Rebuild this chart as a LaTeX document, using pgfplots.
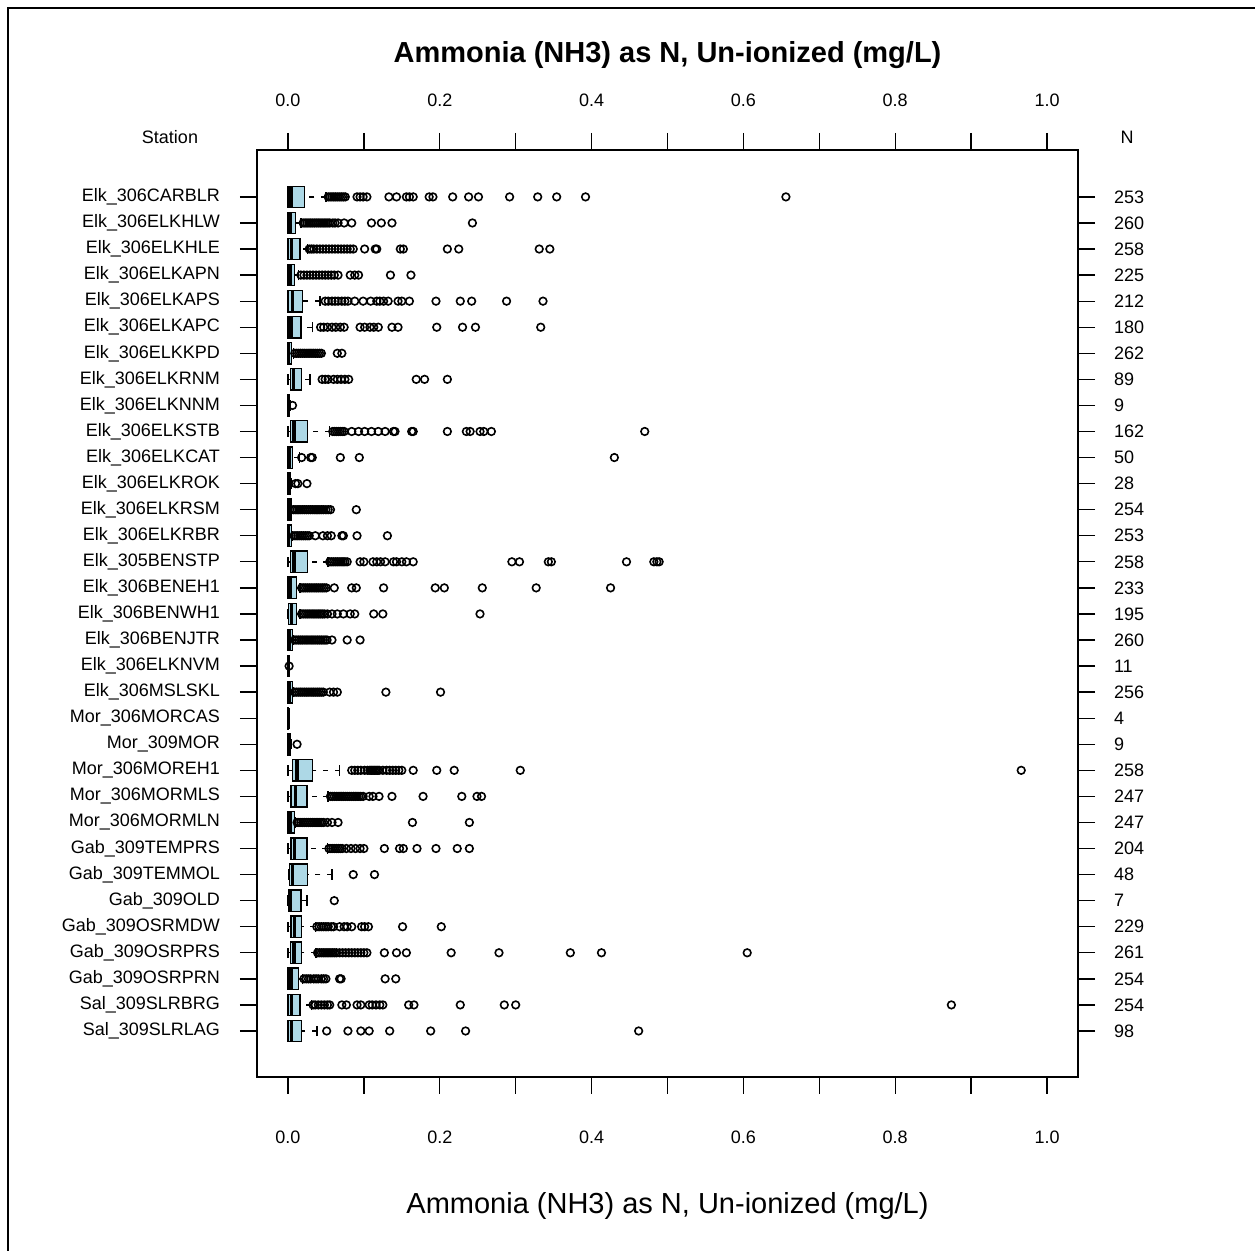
\documentclass[border=0pt]{standalone}
\usepackage{pgfplots}
\pgfplotsset{compat=1.18}
\usepgfplotslibrary{statistics}
\usepackage{fontspec}
\setmainfont{Liberation Sans}
\definecolor{boxblue}{HTML}{ADD8E6}
\begin{document}
\begin{tikzpicture}
\useasboundingbox (-128.5pt,-87pt) rectangle (499pt,538.5pt);
\pgfplotsset{
  common/.style={
    scale only axis, width=410.5pt, height=463.5pt,
    xmin=-0.0408, xmax=1.0408, ymin=-0.765, ymax=34.8,
    axis line style={line width=0.65pt},
    every tick/.style={black, line width=0.65pt},
    tick align=outside,
    major tick length=8.5pt, minor tick length=8.5pt,
    ticklabel style={font=\fontsize{9}{10}\selectfont},
    xtick={0,0.2,0.4,0.6,0.8,1.0},
    minor xtick={0.1,0.3,0.5,0.7,0.9},
    xticklabels={0.0,0.2,0.4,0.6,0.8,1.0},
    ytick={1,...,33},
  },
  outl/.style={only marks, mark=o, mark size=1.9pt, black, mark options={solid, line width=0.8pt, black}},
}
\begin{axis}[common,
  xtick pos=bottom, xticklabel pos=bottom, ytick pos=left, yticklabel pos=left,
  xticklabel shift=14.75pt, yticklabel shift=6.5pt,
  yticklabels={Sal\_309SLRLAG,Sal\_309SLRBRG,Gab\_309OSRPRN,Gab\_309OSRPRS,Gab\_309OSRMDW,Gab\_309OLD,Gab\_309TEMMOL,Gab\_309TEMPRS,Mor\_306MORMLN,Mor\_306MORMLS,Mor\_306MOREH1,Mor\_309MOR,Mor\_306MORCAS,Elk\_306MSLSKL,Elk\_306ELKNVM,Elk\_306BENJTR,Elk\_306BENWH1,Elk\_306BENEH1,Elk\_305BENSTP,Elk\_306ELKRBR,Elk\_306ELKRSM,Elk\_306ELKROK,Elk\_306ELKCAT,Elk\_306ELKSTB,Elk\_306ELKNNM,Elk\_306ELKRNM,Elk\_306ELKKPD,Elk\_306ELKAPC,Elk\_306ELKAPS,Elk\_306ELKAPN,Elk\_306ELKHLE,Elk\_306ELKHLW,Elk\_306CARBLR},
  boxplot/draw direction=x,
  boxplot/box extend=0.82,
  boxplot/whisker extend=0.4,
  boxplot/every box/.style={draw=black, fill=boxblue, line width=0.7pt},
  boxplot/every median/.style={draw=black, line width=1.7pt},
  boxplot/draw/lower whisker/.code={%
    \draw[black, line width=0.7pt, dash pattern=on 2.5pt off 3.3pt]
      (boxplot cs:\pgfplotsboxplotvalue{lower whisker}) --
      (boxplot cs:\pgfplotsboxplotvalue{lower quartile});
    \draw[black, line width=0.7pt]
      (boxplot whisker cs:\pgfplotsboxplotvalue{lower whisker},0) --
      (boxplot whisker cs:\pgfplotsboxplotvalue{lower whisker},1);
  },
  boxplot/draw/upper whisker/.code={%
    \draw[black, line width=0.7pt, dash pattern=on 2.5pt off 3.3pt]
      (boxplot cs:\pgfplotsboxplotvalue{upper whisker}) --
      (boxplot cs:\pgfplotsboxplotvalue{upper quartile});
    \draw[black, line width=0.7pt]
      (boxplot whisker cs:\pgfplotsboxplotvalue{upper whisker},0) --
      (boxplot whisker cs:\pgfplotsboxplotvalue{upper whisker},1);
  },
]
% Row 1 Elk_306CARBLR
\addplot[black, boxplot prepared={draw position=33, lower whisker=0, lower quartile=0, median=0.004, upper quartile=0.022, upper whisker=0.050}] coordinates {};
\addplot[outl] coordinates {(0.053,33)(0.0555,33)(0.058,33)(0.0605,33)(0.063,33)(0.0655,33)(0.068,33)(0.0705,33)(0.073,33)(0.0755,33)(0.091,33)(0.095,33)(0.099,33)(0.104,33)(0.133,33)(0.143,33)(0.156,33)(0.160,33)(0.165,33)(0.186,33)(0.191,33)(0.217,33)(0.238,33)(0.251,33)(0.292,33)(0.329,33)(0.354,33)(0.392,33)(0.656,33)};
% Row 2 Elk_306ELKHLW
\addplot[black, boxplot prepared={draw position=32, lower whisker=0, lower quartile=0, median=0.003, upper quartile=0.010, upper whisker=0.017}] coordinates {};
\addplot[outl] coordinates {(0.020,32)(0.0225,32)(0.025,32)(0.0275,32)(0.030,32)(0.0325,32)(0.035,32)(0.0375,32)(0.040,32)(0.0425,32)(0.045,32)(0.0475,32)(0.050,32)(0.0525,32)(0.055,32)(0.059,32)(0.062,32)(0.066,32)(0.074,32)(0.084,32)(0.110,32)(0.123,32)(0.137,32)(0.243,32)};
% Row 3 Elk_306ELKHLE
\addplot[black, boxplot prepared={draw position=31, lower whisker=0, lower quartile=0, median=0.005, upper quartile=0.016, upper whisker=0.026}] coordinates {};
\addplot[outl] coordinates {(0.028,31)(0.031,31)(0.034,31)(0.038,31)(0.042,31)(0.046,31)(0.050,31)(0.054,31)(0.058,31)(0.062,31)(0.066,31)(0.070,31)(0.074,31)(0.078,31)(0.082,31)(0.086,31)(0.101,31)(0.115,31)(0.117,31)(0.148,31)(0.152,31)(0.210,31)(0.225,31)(0.331,31)(0.345,31)};
% Row 4 Elk_306ELKAPN
\addplot[black, boxplot prepared={draw position=30, lower whisker=0, lower quartile=0, median=0.003, upper quartile=0.009, upper whisker=0.014}] coordinates {};
\addplot[outl] coordinates {(0.017,30)(0.021,30)(0.025,30)(0.029,30)(0.033,30)(0.037,30)(0.041,30)(0.045,30)(0.049,30)(0.053,30)(0.057,30)(0.061,30)(0.066,30)(0.082,30)(0.088,30)(0.093,30)(0.135,30)(0.162,30)};
% Row 5 Elk_306ELKAPS
\addplot[black, boxplot prepared={draw position=29, lower whisker=0, lower quartile=0, median=0.006, upper quartile=0.019, upper whisker=0.042}] coordinates {};
\addplot[outl] coordinates {(0.049,29)(0.053,29)(0.058,29)(0.062,29)(0.066,29)(0.071,29)(0.075,29)(0.079,29)(0.088,29)(0.099,29)(0.109,29)(0.117,29)(0.121,29)(0.126,29)(0.132,29)(0.145,29)(0.150,29)(0.160,29)(0.195,29)(0.227,29)(0.242,29)(0.288,29)(0.336,29)};
% Row 6 Elk_306ELKAPC
\addplot[black, boxplot prepared={draw position=28, lower whisker=0, lower quartile=0, median=0.004, upper quartile=0.017, upper whisker=0.032}] coordinates {};
\addplot[outl] coordinates {(0.043,28)(0.047,28)(0.052,28)(0.058,28)(0.063,28)(0.069,28)(0.074,28)(0.095,28)(0.101,28)(0.108,28)(0.113,28)(0.119,28)(0.137,28)(0.145,28)(0.196,28)(0.230,28)(0.247,28)(0.333,28)};
% Row 7 Elk_306ELKKPD
\addplot[black, boxplot prepared={draw position=27, lower whisker=0, lower quartile=0, median=0.001, upper quartile=0.005, upper whisker=0.007}] coordinates {};
\addplot[outl] coordinates {(0.009,27)(0.0115,27)(0.014,27)(0.0165,27)(0.019,27)(0.0215,27)(0.024,27)(0.0265,27)(0.029,27)(0.0315,27)(0.034,27)(0.0365,27)(0.039,27)(0.0415,27)(0.044,27)(0.065,27)(0.071,27)};
% Row 8 Elk_306ELKRNM
\addplot[black, boxplot prepared={draw position=26, lower whisker=0, lower quartile=0.003, median=0.007, upper quartile=0.018, upper whisker=0.029}] coordinates {};
\addplot[outl] coordinates {(0.045,26)(0.049,26)(0.053,26)(0.060,26)(0.065,26)(0.070,26)(0.075,26)(0.080,26)(0.169,26)(0.180,26)(0.210,26)};
% Row 9 Elk_306ELKNNM
\addplot[black, boxplot prepared={draw position=25, lower whisker=0, lower quartile=0, median=0.001, upper quartile=0.002, upper whisker=0.003}] coordinates {};
\addplot[outl] coordinates {(0.006,25)};
% Row 10 Elk_306ELKSTB
\addplot[black, boxplot prepared={draw position=24, lower whisker=0, lower quartile=0.003, median=0.008, upper quartile=0.026, upper whisker=0.055}] coordinates {};
\addplot[outl] coordinates {(0.059,24)(0.0615,24)(0.064,24)(0.0665,24)(0.069,24)(0.0715,24)(0.074,24)(0.084,24)(0.093,24)(0.101,24)(0.110,24)(0.119,24)(0.128,24)(0.139,24)(0.141,24)(0.163,24)(0.165,24)(0.210,24)(0.235,24)(0.240,24)(0.253,24)(0.258,24)(0.268,24)(0.470,24)};
% Row 11 Elk_306ELKCAT
\addplot[black, boxplot prepared={draw position=23, lower whisker=0, lower quartile=0, median=0.002, upper quartile=0.006, upper whisker=0.015}] coordinates {};
\addplot[outl] coordinates {(0.018,23)(0.030,23)(0.032,23)(0.069,23)(0.094,23)(0.430,23)};
% Row 12 Elk_306ELKROK
\addplot[black, boxplot prepared={draw position=22, lower whisker=0, lower quartile=0, median=0.001, upper quartile=0.003, upper whisker=0.005}] coordinates {};
\addplot[outl] coordinates {(0.010,22)(0.013,22)(0.025,22)};
% Row 13 Elk_306ELKRSM
\addplot[black, boxplot prepared={draw position=21, lower whisker=0, lower quartile=0, median=0.001, upper quartile=0.004, upper whisker=0.005}] coordinates {};
\addplot[outl] coordinates {(0.007,21)(0.0095,21)(0.012,21)(0.0145,21)(0.017,21)(0.0195,21)(0.022,21)(0.0245,21)(0.027,21)(0.0295,21)(0.032,21)(0.0345,21)(0.037,21)(0.0395,21)(0.042,21)(0.0445,21)(0.047,21)(0.050,21)(0.053,21)(0.056,21)(0.090,21)};
% Row 14 Elk_306ELKRBR
\addplot[black, boxplot prepared={draw position=20, lower whisker=0, lower quartile=0, median=0.001, upper quartile=0.005, upper whisker=0.006}] coordinates {};
\addplot[outl] coordinates {(0.008,20)(0.0105,20)(0.013,20)(0.0155,20)(0.018,20)(0.0205,20)(0.023,20)(0.0255,20)(0.028,20)(0.036,20)(0.046,20)(0.052,20)(0.057,20)(0.071,20)(0.073,20)(0.091,20)(0.131,20)};
% Row 15 Elk_305BENSTP
\addplot[black, boxplot prepared={draw position=19, lower whisker=0, lower quartile=0.003, median=0.008, upper quartile=0.026, upper whisker=0.053}] coordinates {};
\addplot[outl] coordinates {(0.055,19)(0.0575,19)(0.060,19)(0.0625,19)(0.065,19)(0.0675,19)(0.070,19)(0.0725,19)(0.075,19)(0.078,19)(0.095,19)(0.100,19)(0.112,19)(0.117,19)(0.122,19)(0.128,19)(0.139,19)(0.143,19)(0.150,19)(0.156,19)(0.165,19)(0.295,19)(0.305,19)(0.343,19)(0.347,19)(0.446,19)(0.482,19)(0.486,19)(0.489,19)};
% Row 16 Elk_306BENEH1
\addplot[black, boxplot prepared={draw position=18, lower whisker=0, lower quartile=0, median=0.003, upper quartile=0.011, upper whisker=0.016}] coordinates {};
\addplot[outl] coordinates {(0.018,18)(0.0205,18)(0.023,18)(0.0255,18)(0.028,18)(0.0305,18)(0.033,18)(0.0355,18)(0.038,18)(0.0405,18)(0.043,18)(0.0455,18)(0.048,18)(0.0505,18)(0.061,18)(0.084,18)(0.090,18)(0.126,18)(0.194,18)(0.206,18)(0.256,18)(0.327,18)(0.425,18)};
% Row 17 Elk_306BENWH1
\addplot[black, boxplot prepared={draw position=17, lower whisker=0, lower quartile=0.001, median=0.005, upper quartile=0.011, upper whisker=0.016}] coordinates {};
\addplot[outl] coordinates {(0.018,17)(0.0205,17)(0.023,17)(0.0255,17)(0.028,17)(0.0305,17)(0.033,17)(0.0355,17)(0.038,17)(0.0405,17)(0.043,17)(0.0455,17)(0.048,17)(0.052,17)(0.058,17)(0.065,17)(0.073,17)(0.082,17)(0.088,17)(0.113,17)(0.125,17)(0.253,17)};
% Row 18 Elk_306BENJTR
\addplot[black, boxplot prepared={draw position=16, lower whisker=0, lower quartile=0, median=0.002, upper quartile=0.006, upper whisker=0.007}] coordinates {};
\addplot[outl] coordinates {(0.009,16)(0.0115,16)(0.014,16)(0.0165,16)(0.019,16)(0.0215,16)(0.024,16)(0.0265,16)(0.029,16)(0.0315,16)(0.034,16)(0.0365,16)(0.039,16)(0.0415,16)(0.044,16)(0.0465,16)(0.049,16)(0.0515,16)(0.058,16)(0.078,16)(0.095,16)};
% Row 19 Elk_306ELKNVM
\addplot[black, boxplot prepared={draw position=15, lower whisker=0, lower quartile=0, median=0.0005, upper quartile=0.001, upper whisker=0.002}] coordinates {};
\addplot[outl] coordinates {(0.0015,15)};
% Row 20 Elk_306MSLSKL
\addplot[black, boxplot prepared={draw position=14, lower whisker=0, lower quartile=0, median=0.002, upper quartile=0.006, upper whisker=0.007}] coordinates {};
\addplot[outl] coordinates {(0.009,14)(0.0115,14)(0.014,14)(0.0165,14)(0.019,14)(0.0215,14)(0.024,14)(0.0265,14)(0.029,14)(0.0315,14)(0.034,14)(0.0365,14)(0.039,14)(0.0415,14)(0.044,14)(0.0465,14)(0.055,14)(0.060,14)(0.065,14)(0.129,14)(0.201,14)};
% Row 21 Mor_306MORCAS
\addplot[black, boxplot prepared={draw position=13, lower whisker=0, lower quartile=0, median=0.0005, upper quartile=0.001, upper whisker=0.002}] coordinates {};
% Row 22 Mor_309MOR
\addplot[black, boxplot prepared={draw position=12, lower whisker=0, lower quartile=0, median=0.001, upper quartile=0.003, upper whisker=0.004}] coordinates {};
\addplot[outl] coordinates {(0.012,12)};
% Row 23 Mor_306MOREH1
\addplot[black, boxplot prepared={draw position=11, lower whisker=0, lower quartile=0.006, median=0.012, upper quartile=0.032, upper whisker=0.068}] coordinates {};
\addplot[outl] coordinates {(0.084,11)(0.088,11)(0.092,11)(0.096,11)(0.101,11)(0.105,11)(0.108,11)(0.110,11)(0.112,11)(0.114,11)(0.116,11)(0.118,11)(0.120,11)(0.125,11)(0.130,11)(0.134,11)(0.138,11)(0.142,11)(0.146,11)(0.150,11)(0.165,11)(0.196,11)(0.219,11)(0.306,11)(0.966,11)};
% Row 24 Mor_306MORMLS
\addplot[black, boxplot prepared={draw position=10, lower whisker=0, lower quartile=0.004, median=0.010, upper quartile=0.025, upper whisker=0.053}] coordinates {};
\addplot[outl] coordinates {(0.056,10)(0.0585,10)(0.061,10)(0.0635,10)(0.066,10)(0.0685,10)(0.071,10)(0.0735,10)(0.076,10)(0.0785,10)(0.081,10)(0.0835,10)(0.086,10)(0.0885,10)(0.091,10)(0.0935,10)(0.096,10)(0.099,10)(0.107,10)(0.112,10)(0.120,10)(0.137,10)(0.178,10)(0.229,10)(0.249,10)(0.255,10)};
% Row 25 Mor_306MORMLN
\addplot[black, boxplot prepared={draw position=9, lower whisker=0, lower quartile=0, median=0.003, upper quartile=0.009, upper whisker=0.010}] coordinates {};
\addplot[outl] coordinates {(0.012,9)(0.0145,9)(0.017,9)(0.0195,9)(0.022,9)(0.0245,9)(0.027,9)(0.0295,9)(0.032,9)(0.0345,9)(0.037,9)(0.0395,9)(0.042,9)(0.0445,9)(0.047,9)(0.052,9)(0.058,9)(0.066,9)(0.164,9)(0.239,9)};
% Row 26 Gab_309TEMPRS
\addplot[black, boxplot prepared={draw position=8, lower whisker=0, lower quartile=0.004, median=0.009, upper quartile=0.025, upper whisker=0.052}] coordinates {};
\addplot[outl] coordinates {(0.054,8)(0.0565,8)(0.059,8)(0.0615,8)(0.064,8)(0.0665,8)(0.069,8)(0.0715,8)(0.077,8)(0.083,8)(0.089,8)(0.095,8)(0.100,8)(0.127,8)(0.147,8)(0.152,8)(0.170,8)(0.195,8)(0.223,8)(0.239,8)};
% Row 27 Gab_309TEMMOL
\addplot[black, boxplot prepared={draw position=7, lower whisker=0.001, lower quartile=0.002, median=0.006, upper quartile=0.026, upper whisker=0.058}] coordinates {};
\addplot[outl] coordinates {(0.086,7)(0.114,7)};
% Row 28 Gab_309OLD
\addplot[black, boxplot prepared={draw position=6, lower whisker=0, lower quartile=0.0005, median=0.003, upper quartile=0.017, upper whisker=0.025}] coordinates {};
\addplot[outl] coordinates {(0.061,6)};
% Row 29 Gab_309OSRMDW
\addplot[black, boxplot prepared={draw position=5, lower whisker=0, lower quartile=0.004, median=0.009, upper quartile=0.018, upper whisker=0.036}] coordinates {};
\addplot[outl] coordinates {(0.038,5)(0.041,5)(0.044,5)(0.047,5)(0.050,5)(0.053,5)(0.057,5)(0.060,5)(0.068,5)(0.074,5)(0.078,5)(0.084,5)(0.097,5)(0.101,5)(0.106,5)(0.151,5)(0.202,5)};
% Row 30 Gab_309OSRPRS
\addplot[black, boxplot prepared={draw position=4, lower whisker=0, lower quartile=0.003, median=0.008, upper quartile=0.018, upper whisker=0.037}] coordinates {};
\addplot[outl] coordinates {(0.039,4)(0.0415,4)(0.044,4)(0.0465,4)(0.049,4)(0.0515,4)(0.054,4)(0.0565,4)(0.059,4)(0.0615,4)(0.064,4)(0.068,4)(0.072,4)(0.076,4)(0.080,4)(0.084,4)(0.088,4)(0.092,4)(0.096,4)(0.100,4)(0.104,4)(0.127,4)(0.143,4)(0.156,4)(0.215,4)(0.278,4)(0.372,4)(0.413,4)(0.605,4)};
% Row 31 Gab_309OSRPRN
\addplot[black, boxplot prepared={draw position=3, lower whisker=0, lower quartile=0, median=0.004, upper quartile=0.014, upper whisker=0.019}] coordinates {};
\addplot[outl] coordinates {(0.021,3)(0.024,3)(0.027,3)(0.030,3)(0.034,3)(0.037,3)(0.040,3)(0.044,3)(0.047,3)(0.050,3)(0.068,3)(0.070,3)(0.128,3)(0.142,3)};
% Row 32 Sal_309SLRBRG
\addplot[black, boxplot prepared={draw position=2, lower whisker=0, lower quartile=0, median=0.005, upper quartile=0.016, upper whisker=0.031}] coordinates {};
\addplot[outl] coordinates {(0.033,2)(0.036,2)(0.040,2)(0.044,2)(0.048,2)(0.052,2)(0.055,2)(0.071,2)(0.077,2)(0.091,2)(0.096,2)(0.107,2)(0.111,2)(0.116,2)(0.121,2)(0.125,2)(0.159,2)(0.166,2)(0.227,2)(0.285,2)(0.300,2)(0.874,2)};
% Row 33 Sal_309SLRLAG
\addplot[black, boxplot prepared={draw position=1, lower whisker=0, lower quartile=0, median=0.005, upper quartile=0.018, upper whisker=0.038}] coordinates {};
\addplot[outl] coordinates {(0.051,1)(0.079,1)(0.096,1)(0.107,1)(0.134,1)(0.188,1)(0.234,1)(0.462,1)};
\end{axis}
\begin{axis}[common,
  xtick pos=top, xticklabel pos=top, ytick pos=right, yticklabel pos=right,
  xticklabel shift=9.75pt, yticklabel shift=6pt,
  yticklabels={98,254,254,261,229,7,48,204,247,247,258,9,4,256,11,260,195,233,258,253,254,28,50,162,9,89,262,180,212,225,258,260,253},
]
\addplot[draw=none] coordinates {(0,1)};
\end{axis}
\node[font=\bfseries\fontsize{14.5}{16}\selectfont, anchor=base] at (205.25pt,507.3pt) {Ammonia (NH3) as N, Un-ionized (mg/L)};
\node[font=\fontsize{14.5}{16}\selectfont, anchor=base] at (205.25pt,-68.2pt) {Ammonia (NH3) as N, Un-ionized (mg/L)};
\node[font=\fontsize{9}{10}\selectfont, anchor=base] at (-43.5pt,466.8pt) {Station};
\node[font=\fontsize{9}{10}\selectfont, anchor=base] at (435pt,466.8pt) {N};
\draw[line width=1.2pt] (-124.5pt,-100pt) -- (-124.5pt,534.5pt) -- (520pt,534.5pt);
\end{tikzpicture}
\end{document}
